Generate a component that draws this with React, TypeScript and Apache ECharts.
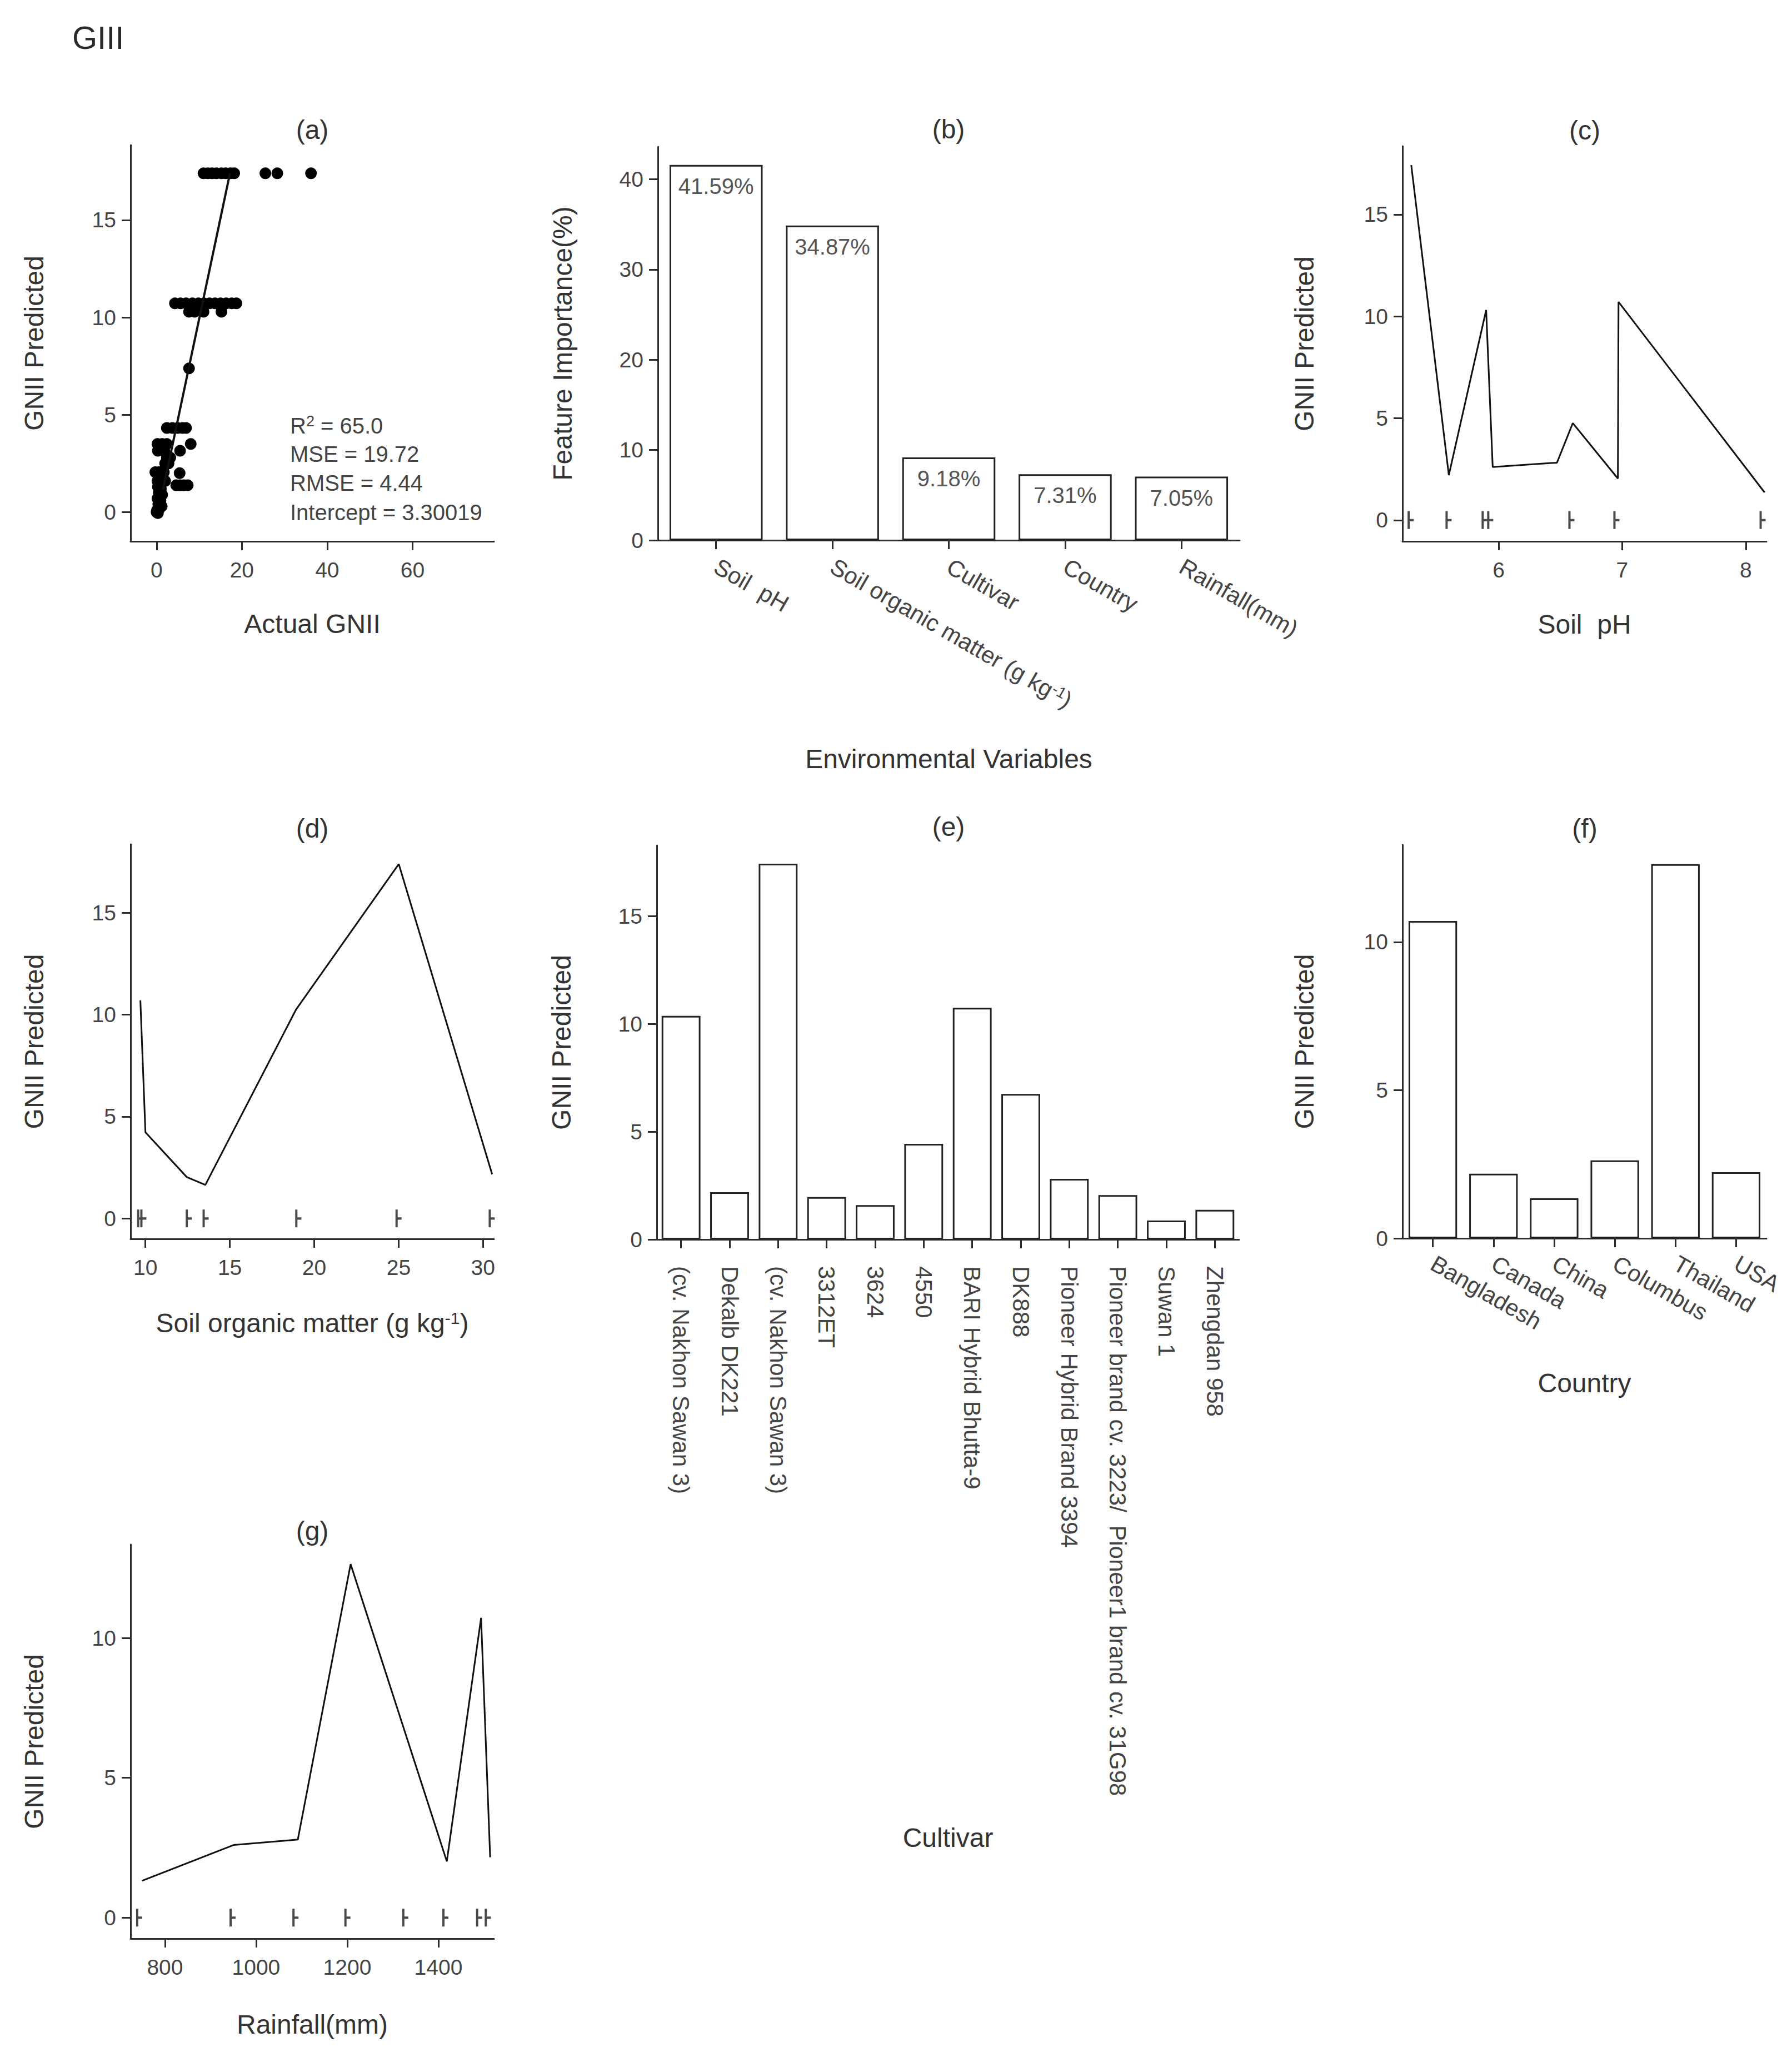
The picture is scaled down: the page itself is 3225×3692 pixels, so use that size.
import React, { useEffect, useRef } from 'react';
import * as echarts from 'echarts';

const FONT = '"Liberation Sans", Arial, Helvetica, sans-serif';

// ---------- DATA ----------
// (a) scatter: actual vs predicted GNII
const scatterActual = [
  11, 12, 13, 14, 15.2, 16.2, 17.3, 18.2, 25.5, 28.3, 36.2,
  4.3, 5.6, 6.9, 8.4, 9.8, 11.1, 12.4, 13.7, 15.0, 16.3, 17.6, 18.7,
  7.6, 8.9, 11.0, 15.2,
  7.6,
  2.4, 3.7, 4.95, 6.1, 6.9,
  0.2, 1.3, 2.4, 8.0,
  0.3, 1.8, 5.5,
  2.4, 3.2, 2.0, 2.8,
  -0.3, 0.6, 1.7, 5.4,
  0.2, 1.1, 2.0,
  4.6, 5.5, 6.4, 7.3,
  0.3, 1.0, 0.5, 1.3, 0.2, 0.9, 0.4, 1.2, 0.1, 0.6, 0, 0.3
];
const scatterPredicted = [
  17.4, 17.4, 17.4, 17.4, 17.4, 17.4, 17.4, 17.4, 17.4, 17.4, 17.4,
  10.72, 10.72, 10.72, 10.72, 10.72, 10.72, 10.72, 10.72, 10.72, 10.72, 10.72, 10.72,
  10.29, 10.29, 10.29, 10.29,
  7.38,
  4.32, 4.32, 4.32, 4.32, 4.32,
  3.5, 3.5, 3.5, 3.5,
  3.15, 3.15, 3.15,
  2.8, 2.8, 2.5, 2.5,
  2.05, 2.05, 2.05, 2.0,
  1.6, 1.6, 1.6,
  1.38, 1.38, 1.38, 1.38,
  1.3, 1.2, 1.0, 0.9, 0.7, 0.6, 0.4, 0.3, 0.1, 0.15, 0, -0.05
];
const fitLineX = [1.5, 17.2];
const fitLineY = [1.14, 17.4];
const statsLines = ['R2 = 65.0', 'MSE = 19.72', 'RMSE = 4.44', 'Intercept = 3.30019'];

// (b) feature importance
const featureNames = ['Soil  pH', 'Soil organic matter (g kg-1)', 'Cultivar', 'Country', 'Rainfall(mm)'];
const featureImportance = [41.59, 34.87, 9.18, 7.31, 7.05];

// (c) soil pH partial dependence
const phX = [5.293, 5.597, 5.899, 5.952, 6.472, 6.6, 6.965, 6.97, 8.152];
const phY = [17.42, 2.21, 10.31, 2.61, 2.82, 4.76, 2.04, 10.71, 1.36];
const phRug = [5.272, 5.579, 5.871, 5.916, 6.573, 6.937, 8.12];

// (d) soil organic matter
const somX = [9.7, 10.0, 12.45, 13.55, 18.93, 25.01, 30.54];
const somY = [10.7, 4.23, 2.03, 1.65, 10.26, 17.39, 2.17];
const somRug = [9.57, 9.76, 12.45, 13.45, 18.94, 24.88, 30.4];

// (e) cultivar
const cultivars = [
  '(cv. Nakhon Sawan 3)', 'Dekalb DK221', '(cv. Nakhon Sawan 3)', '3312ET', '3624', '4550',
  'BARI Hybrid Bhutta-9', 'DK888', 'Pioneer Hybrid Brand 3394',
  'Pioneer brand cv. 3223/  Pioneer1 brand cv. 31G98', 'Suwan 1', 'Zhengdan 958'
];
const cultivarValues = [10.375, 2.19, 17.44, 1.97, 1.59, 4.44, 10.75, 6.75, 2.81, 2.06, 0.875, 1.375];

// (f) country
const countries = ['Bangladesh', 'Canada', 'China', 'Columbus', 'Thailand', 'USA'];
const countryValues = [10.71, 2.18, 1.35, 2.63, 12.63, 2.23];

// (g) rainfall
const rainX = [749.8, 951.3, 1091.5, 1207.4, 1418.5, 1493.7, 1513.6];
const rainY = [1.32, 2.6, 2.79, 12.64, 2.01, 10.72, 2.16];
const rainRug = [739, 944, 1082, 1196, 1323, 1411, 1485, 1504];

// tick values
const aXTicks = [0, 20, 40, 60];
const aYTicks = [0, 5, 10, 15];
const bYTicks = [0, 10, 20, 30, 40];
const cXTicks = [6, 7, 8];
const cYTicks = [0, 5, 10, 15];
const dXTicks = [10, 15, 20, 25, 30];
const dYTicks = [0, 5, 10, 15];
const eYTicks = [0, 5, 10, 15];
const fYTicks = [0, 5, 10];
const gXTicks = [800, 1000, 1200, 1400];
const gYTicks = [0, 5, 10];

const panelTitles = ['(a)', '(b)', '(c)', '(d)', '(e)', '(f)', '(g)'];

// ---------- LAYOUT ----------
const grids = [
  { left: 235, top: 261, width: 654, height: 713 },
  { left: 1184, top: 264, width: 1047, height: 708 },
  { left: 2524, top: 263, width: 655, height: 711 },
  { left: 235, top: 1519, width: 654, height: 710 },
  { left: 1182, top: 1521, width: 1048, height: 709 },
  { left: 2524, top: 1520, width: 655, height: 708 },
  { left: 235, top: 2779, width: 654, height: 709 },
];
const titlePos = [
  [562, 233], [1707, 232], [2852, 234], [562, 1490], [1707, 1487], [2852, 1490], [562, 2754],
];

const AXIS_COLOR = '#2b2b2b';
const LABEL_COLOR = '#444';
const NAME_COLOR = '#333';

const supRich = {
  sup: { fontSize: 28, verticalAlign: 'top', color: LABEL_COLOR, fontFamily: FONT, lineHeight: 28 },
};
const supRichName = {
  sup: { fontSize: 30, verticalAlign: 'top', color: NAME_COLOR, fontFamily: FONT, lineHeight: 30 },
};
const supFmt = (v: string) => v.replace('kg-1)', 'kg{sup|-1})');
const plainNum = (v: number) => String(v);

function axisLine() {
  return { show: true, onZero: false, lineStyle: { color: AXIS_COLOR, width: 3 } };
}
function nameStyle() {
  return { fontSize: 48, color: NAME_COLOR, fontFamily: FONT };
}

function valueX(gridIndex: number, min: number, max: number, ticks: number[], name: string, nameGap: number, rich?: any) {
  return {
    type: 'value', gridIndex, min, max,
    axisLine: axisLine(),
    axisTick: { show: true, length: 16, lineStyle: { color: AXIS_COLOR, width: 3 }, customValues: ticks },
    axisLabel: { customValues: ticks, formatter: plainNum, fontSize: 39, color: LABEL_COLOR, fontFamily: FONT, margin: 32 },
    splitLine: { show: false },
    name, nameLocation: 'middle', nameGap, nameMoveOverlap: false,
    nameTextStyle: rich ? { ...nameStyle(), rich } : nameStyle(),
  };
}
function valueY(gridIndex: number, min: number, max: number, ticks: number[], name: string, nameGap: number) {
  return {
    type: 'value', gridIndex, min, max,
    axisLine: axisLine(),
    axisTick: { show: true, length: 16, lineStyle: { color: AXIS_COLOR, width: 3 }, customValues: ticks },
    axisLabel: { customValues: ticks, formatter: plainNum, fontSize: 39, color: LABEL_COLOR, fontFamily: FONT, margin: 26 },
    splitLine: { show: false },
    name, nameLocation: 'middle', nameGap, nameMoveOverlap: false,
    nameTextStyle: nameStyle(),
  };
}
function categoryX(gridIndex: number, data: string[], rotate: number, margin: number, name: string, nameGap: number, fontSize: number) {
  return {
    type: 'category', gridIndex, data,
    axisLine: axisLine(),
    axisTick: { show: true, length: 16, alignWithLabel: true, lineStyle: { color: AXIS_COLOR, width: 3 } },
    axisLabel: {
      interval: 0, rotate, margin, fontSize, color: LABEL_COLOR, fontFamily: FONT,
      formatter: supFmt, rich: supRich, hideOverlap: false,
    },
    splitLine: { show: false },
    name, nameLocation: 'middle', nameGap, nameMoveOverlap: false,
    nameTextStyle: nameStyle(),
  };
}

const pairs = (xs: number[], ys: number[]) => xs.map((x, i) => [x, ys[i]]);
const rugData = (xs: number[]) => xs.map((x) => [x, 0]);

const RUG_SYMBOL = 'path://M0,0L4,0L4,13L11,13L11,17L4,17L4,30L0,30Z';
function rugSeries(idx: number, xs: number[]) {
  return {
    type: 'scatter', xAxisIndex: idx, yAxisIndex: idx, data: rugData(xs),
    symbol: RUG_SYMBOL, symbolSize: [11, 32], symbolOffset: [3.5, 0],
    itemStyle: { color: '#4a4a4a', opacity: 1 }, silent: true, z: 3,
  };
}
function lineSeries(idx: number, xs: number[], ys: number[], width = 3) {
  return {
    type: 'line', xAxisIndex: idx, yAxisIndex: idx, data: pairs(xs, ys),
    symbol: 'none', lineStyle: { color: '#111', width }, z: 4,
  };
}
function barSeries(idx: number, values: number[], label?: any) {
  return {
    type: 'bar', xAxisIndex: idx, yAxisIndex: idx, data: values, barWidth: '80%',
    itemStyle: { color: '#ffffff', borderColor: '#222', borderWidth: 3 },
    label: label || { show: false },
  };
}

function buildOption() {
  const graphics: any[] = [];
  graphics.push({
    type: 'text', x: 130, y: 67,
    style: { text: 'GIII', fontSize: 58, fontFamily: FONT, fill: '#2a2a2a', verticalAlign: 'middle', align: 'left' },
  });
  panelTitles.forEach((t, i) => {
    graphics.push({
      type: 'text', x: titlePos[i][0], y: titlePos[i][1],
      style: { text: t, fontSize: 48, fontFamily: FONT, fill: NAME_COLOR, align: 'center', verticalAlign: 'middle' },
    });
  });
  const statsY = [766, 817, 869, 922];
  statsLines.forEach((s, i) => {
    const txt = i === 0 ? '{n|R}{s|2}{n|' + s.slice(2) + '}' : '{n|' + s + '}';
    graphics.push({
      type: 'text', x: 522, y: statsY[i],
      style: {
        text: txt, align: 'left', verticalAlign: 'middle',
        rich: {
          n: { fontSize: 40, fontFamily: FONT, fill: LABEL_COLOR, color: LABEL_COLOR, lineHeight: 44 },
          s: { fontSize: 27, fontFamily: FONT, fill: LABEL_COLOR, color: LABEL_COLOR, verticalAlign: 'top', lineHeight: 27 },
        },
      },
    });
  });

  return {
    animation: false,
    backgroundColor: '#ffffff',
    textStyle: { fontFamily: FONT },
    grid: grids.map((g) => ({ ...g, containLabel: false })),
    xAxis: [
      valueX(0, -6.1, 79.1, aXTicks, 'Actual GNII', 124),
      categoryX(1, featureNames, -30, 44, 'Environmental Variables', 369, 42),
      valueX(2, 5.222, 8.167, cXTicks, 'Soil  pH', 125),
      valueX(3, 9.12, 30.65, dXTicks, 'Soil organic matter (g kg{sup|-1})', 127, supRichName),
      categoryX(4, cultivars, -90, 48, 'Cultivar', 1052, 42),
      categoryX(5, countries, -30, 42, 'Country', 236, 42),
      valueX(6, 724.5, 1522, gXTicks, 'Rainfall(mm)', 130),
    ],
    yAxis: [
      valueY(0, -1.5, 18.85, aYTicks, 'GNII Predicted', 150),
      valueY(1, 0, 43.6, bYTicks, 'Feature Importance(%)', 148),
      valueY(2, -1.04, 18.35, cYTicks, 'GNII Predicted', 153),
      valueY(3, -1.0, 18.36, dYTicks, 'GNII Predicted', 150),
      valueY(4, 0, 18.29, eYTicks, 'GNII Predicted', 148),
      valueY(5, 0, 13.28, fYTicks, 'GNII Predicted', 153),
      valueY(6, -0.75, 13.34, gYTicks, 'GNII Predicted', 150),
    ],
    series: [
      {
        type: 'scatter', xAxisIndex: 0, yAxisIndex: 0, data: pairs(scatterActual, scatterPredicted),
        symbol: 'circle', symbolSize: 21, itemStyle: { color: '#000', opacity: 1 }, z: 3,
      },
      lineSeries(0, fitLineX, fitLineY, 4),
      barSeries(1, featureImportance, {
        show: true, position: 'insideTop', distance: 18, fontSize: 40, color: '#555', fontFamily: FONT,
        formatter: (p: any) => featureImportance[p.dataIndex].toFixed(2) + '%',
      }),
      lineSeries(2, phX, phY),
      rugSeries(2, phRug),
      lineSeries(3, somX, somY),
      rugSeries(3, somRug),
      barSeries(4, cultivarValues),
      barSeries(5, countryValues),
      lineSeries(6, rainX, rainY),
      rugSeries(6, rainRug),
    ],
    graphic: graphics,
  };
}

export default function App() {
  const ref = useRef<HTMLDivElement>(null);
  useEffect(() => {
    document.body.style.margin = '0';
    if (!ref.current) return;
    const chart = echarts.init(ref.current, null, { renderer: 'svg' });
    chart.setOption(buildOption() as any);
    return () => chart.dispose();
  }, []);
  return <div ref={ref} style={{ width: 3225, height: 3692, background: '#fff' }} />;
}
